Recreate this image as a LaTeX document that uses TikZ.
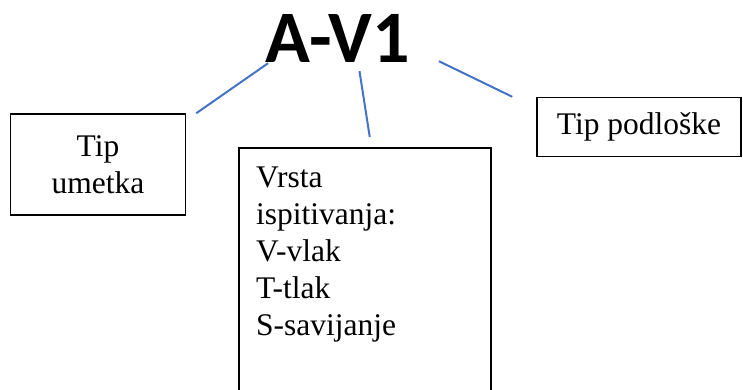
\documentclass[tikz,border=0pt]{standalone}
\usepackage{fontspec}
\setmainfont{Liberation Serif}
\newfontfamily\naslovfont{Carlito}
\definecolor{vezaplava}{HTML}{4472C4}
\begin{document}
\begin{tikzpicture}[
  x=1pt, y=1pt,
  box/.style={draw, line width=1.5pt, inner sep=0pt},
  txt/.style={font=\fontsize{31.5}{37}\selectfont},
  veza/.style={draw=vezaplava, line width=2pt}
]
\useasboundingbox (0,0) rectangle (743,389);
\clip (0,0) rectangle (743,389);
\node[font=\naslovfont\bfseries\fontsize{74}{80}\selectfont, inner sep=0pt, anchor=base] (oznaka) at (337.5,326) {A-V1};
\node[box, txt, align=center, minimum width=175, minimum height=101] (umetka) at (98,224.5) {Tip\\umetka};
\node[box, txt, minimum width=204, minimum height=59] (podloska) at (639,262) {Tip podloške};
\node[box, anchor=north west, minimum width=252, minimum height=290] (ispit) at (238,242) {};
\node[txt, align=left, inner sep=0pt, anchor=north west] (vrsta) at ([xshift=18,yshift=-20]ispit.north west)
  {Vrsta\\ispitivanja:\\V-vlak\\T-tlak\\S-savijanje};

\draw[veza] ([xshift=10]umetka.north east) -- ([xshift=3]oznaka.south west);
\draw[veza] ([xshift=22,yshift=-8]oznaka.south) -- ([xshift=5,yshift=10]ispit.north);
\draw[veza] ([xshift=29,yshift=2]oznaka.south east) -- ([xshift=-24]podloska.north west);
\end{tikzpicture}
\end{document}
